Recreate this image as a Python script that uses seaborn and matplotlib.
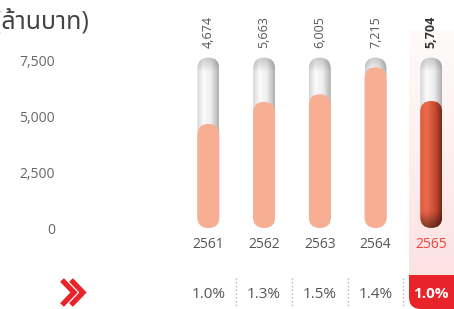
import numpy as np
import matplotlib
matplotlib.use("Agg")
import matplotlib.pyplot as plt
from matplotlib.patches import FancyBboxPatch, PathPatch
from matplotlib.path import Path
from matplotlib.colors import to_rgb
import seaborn as sns

# --- data ---
years = ["2561", "2562", "2563", "2564", "2565"]
values = [4674, 5663, 6005, 7215, 5704]
pct_labels = ["1.0%", "1.3%", "1.5%", "1.4%", "1.0%"]
ytick_values = [0, 2500, 5000, 7500]
tube_top = 7650
unit_label = "(ล้านบาท)"

W, H = 454, 309
GRAY = "#555555"
RED = "#e8232a"
SALMON = "#f7ae92"

sns.set_theme(style="white")
plt.rcParams["font.family"] = ["Open Sans", "Noto Sans Thai", "Loma", "Garuda",
                               "Tlwg Typo", "DejaVu Sans"]


def hgrad(stops, colors, n=64):
    xs = np.linspace(0, 1, n)
    rgb = [to_rgb(c) for c in colors]
    return np.stack([np.interp(xs, stops, [c[i] for c in rgb]) for i in range(3)], axis=-1)


fig = plt.figure(figsize=(W / 100, H / 100), dpi=100)

# decoration layer, pixel coordinates
deco = fig.add_axes([0, 0, 1, 1], zorder=0)
deco.axis("off")

ax = fig.add_axes([181 / W, 0, (W - 181) / W, 1], zorder=1)
ax.patch.set_alpha(0)

px_x = 55.7            # pixels per category
x0_px = 208.4          # pixel of first category
y_per_px = 1000 / 22.27
xlim = ((181 - x0_px) / px_x, (W - x0_px) / px_x)
ylim = (-(H - 228) * y_per_px, 228 * y_per_px)
aspect = px_x * y_per_px


def ypx(p):
    return (228 - p) * y_per_px


# tubes and bars through seaborn
sns.barplot(x=years, y=[tube_top] * len(years), color="#eeeeee", width=0.394,
            errorbar=None, ax=ax)
sns.barplot(x=years, y=values, color=SALMON, width=0.394, errorbar=None, ax=ax)

patches = list(ax.patches)
tubes, bars = patches[:len(years)], patches[len(years):]

tube_row = hgrad([0, 0.3, 0.65, 1], ["#d6d6d6", "#fbfbfb", "#ededed", "#b0b0b0"])
tv = np.ones(100)
tv[:9] = np.linspace(0.82, 1, 9)
tube_img = tube_row[None, :, :] * tv[:, None, None]

hi_row = hgrad([0, 0.3, 0.7, 1], ["#e0593c", "#ec6b4c", "#c44b33", "#7a2819"])
hv = np.ones(100)
hv[-14:] = np.linspace(1, 0.55, 14)
hi_img = np.clip(hi_row[None, :, :] * hv[:, None, None], 0, 1)


def rounded(p, z, face):
    x, w, h = p.get_x(), p.get_width(), p.get_height()
    p.remove()
    rp = FancyBboxPatch((x, 0), w, h, boxstyle=f"round,pad=0,rounding_size={w / 2}",
                        mutation_aspect=aspect, facecolor=face, edgecolor="none",
                        zorder=z)
    ax.add_patch(rp)
    return rp, (x, x + w, 0, h)


for p in tubes:
    rp, ext = rounded(p, 2, "none")
    im = ax.imshow(tube_img, extent=ext, aspect="auto", zorder=2, interpolation="bilinear")
    im.set_clip_path(rp)

for i, p in enumerate(bars):
    if i == len(bars) - 1:
        rp, ext = rounded(p, 3, "none")
        im = ax.imshow(hi_img, extent=ext, aspect="auto", zorder=3, interpolation="bilinear")
        im.set_clip_path(rp)
    else:
        rounded(p, 3, SALMON)

# labels
last = len(years) - 1
for i, (yr, v, pc) in enumerate(zip(years, values, pct_labels)):
    hl = i == last
    ax.text(i, ypx(48), f"{v:,}", rotation=90, ha="center", va="bottom", fontsize=9,
            color="#333333" if hl else GRAY, fontweight="bold" if hl else "normal")
    ax.text(i, ypx(245), yr, ha="center", va="center", fontsize=10,
            color="#f0413a" if hl else GRAY)
    ax.text(i, ypx(294), pc, ha="center", va="center", fontsize=11,
            color="white" if hl else GRAY, fontweight="bold" if hl else "normal")
    if i < last:
        ax.plot([i + 0.5, i + 0.5], [ypx(278), ypx(308)], ls=(0, (1, 2)),
                color="#aaaaaa", lw=0.9)

ax.set_yticks(ytick_values)
ax.set_yticklabels([f"{v:,}" for v in ytick_values])
ax.tick_params(axis="y", length=0, pad=126 * 0.72, labelsize=10, labelcolor="#666666")
ax.tick_params(axis="x", length=0, labelbottom=False)
ax.set_xlabel("")
ax.set_ylabel("")
sns.despine(ax=ax, left=True, bottom=True)
ax.set_xlim(*xlim)
ax.set_ylim(*ylim)

# highlight column + red box
pink = np.linspace(0, 1, 100)[:, None, None] * (np.array(to_rgb("#fde2e2")) - np.array(to_rgb("#fffbfb"))) \
    + np.array(to_rgb("#fffbfb"))
deco.imshow(np.repeat(pink, 2, axis=1), extent=[409, W, 275, 30], aspect="auto", zorder=0)
r = 12
verts = [(409, 275), (W, 275), (W, H), (409 + r, H), (409, H), (409, H - r), (409, 275)]
codes = [Path.MOVETO, Path.LINETO, Path.LINETO, Path.LINETO, Path.CURVE3, Path.CURVE3,
         Path.CLOSEPOLY]
deco.add_patch(PathPatch(Path(verts, codes), facecolor=RED, edgecolor="none", zorder=1))

# chevron
for dx in (0, 9):
    deco.plot([62 + dx, 74 + dx, 62 + dx], [280, 292.5, 305], color=RED, lw=3.8,
              solid_joinstyle="miter", solid_capstyle="butt")

deco.set_xlim(0, W)
deco.set_ylim(H, 0)

fig.text(89 / W, 1 - 22 / H, unit_label, ha="right", va="center", fontsize=18, color="#444444")

fig.savefig("out.png", dpi=100)
